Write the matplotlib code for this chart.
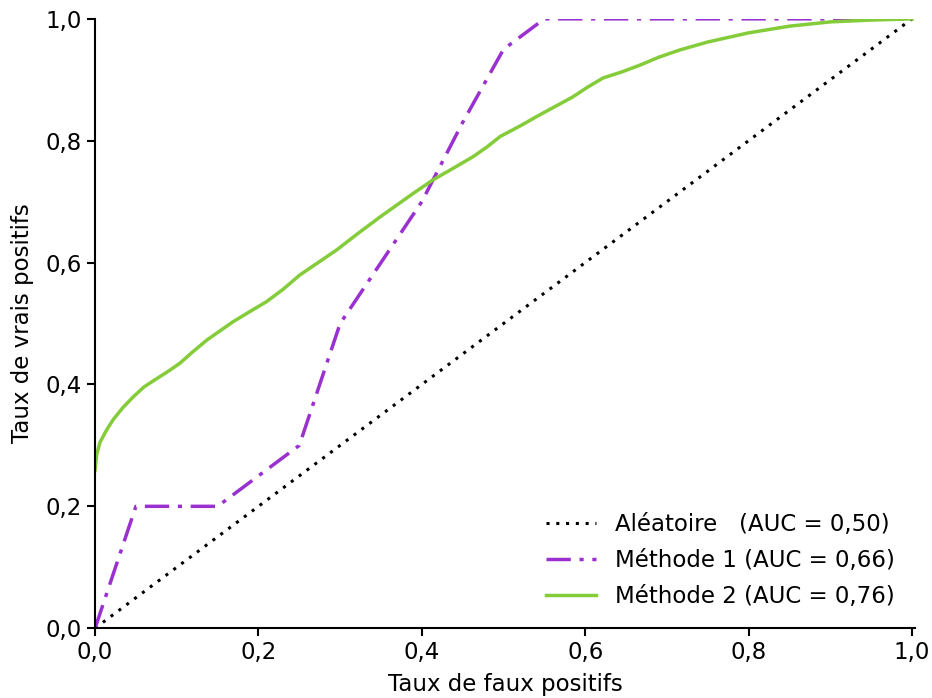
import matplotlib
matplotlib.use("Agg")
import matplotlib.pyplot as plt
from matplotlib.ticker import FuncFormatter

# diagonale (aléatoire)
fpr_rand = [0.0, 1.0]
tpr_rand = [0.0, 1.0]

# méthode 1
fpr_m1 = [0.0, 0.05, 0.15, 0.25, 0.30, 0.40, 0.45, 0.50, 0.55, 1.0]
tpr_m1 = [0.0, 0.20, 0.20, 0.30, 0.50, 0.70, 0.83, 0.95, 1.00, 1.0]

# méthode 2
fpr_m2 = [0.0, 0.002, 0.006, 0.014, 0.022, 0.034, 0.047, 0.060, 0.076, 0.090,
          0.104, 0.120, 0.137, 0.153, 0.169, 0.190, 0.210, 0.230, 0.251, 0.273,
          0.296, 0.322, 0.349, 0.370, 0.390, 0.414, 0.440, 0.463, 0.480, 0.496,
          0.520, 0.541, 0.563, 0.585, 0.603, 0.622, 0.645, 0.667, 0.690, 0.716,
          0.750, 0.800, 0.850, 0.900, 0.950, 1.0]
tpr_m2 = [0.259, 0.285, 0.305, 0.325, 0.342, 0.362, 0.380, 0.396, 0.410, 0.422,
          0.435, 0.454, 0.473, 0.488, 0.503, 0.520, 0.536, 0.556, 0.580, 0.600,
          0.621, 0.648, 0.675, 0.695, 0.714, 0.736, 0.756, 0.774, 0.790, 0.807,
          0.824, 0.840, 0.856, 0.872, 0.888, 0.903, 0.913, 0.924, 0.937, 0.949,
          0.962, 0.977, 0.988, 0.995, 0.998, 1.0]

labels = ["Aléatoire   (AUC = 0,50)",
          "Méthode 1 (AUC = 0,66)",
          "Méthode 2 (AUC = 0,76)"]

fig = plt.figure(figsize=(9.32, 6.98), dpi=100)
ax = fig.add_axes([0.102, 0.100, 0.880, 0.873])

ax.plot(fpr_rand, tpr_rand, color="black", linestyle=(0, (1, 2.2)), linewidth=2.2, label=labels[0])
ax.plot(fpr_m1, tpr_m1, color="#9b30d0", linestyle=(0, (7, 2.5, 1.2, 2.5)), linewidth=2.5, label=labels[1])
ax.plot(fpr_m2, tpr_m2, color="#84cc3a", linestyle="-", linewidth=2.5, label=labels[2])

ax.set_xlim(0, 1.004)
ax.set_ylim(0, 1.0)
ax.set_xticks([0, 0.2, 0.4, 0.6, 0.8, 1.0])
ax.set_yticks([0, 0.2, 0.4, 0.6, 0.8, 1.0])
fmt = FuncFormatter(lambda v, p: f"{v:.1f}".replace(".", ","))
ax.xaxis.set_major_formatter(fmt)
ax.yaxis.set_major_formatter(fmt)
ax.tick_params(labelsize=16.5, width=1.5, length=6)

ax.spines["top"].set_visible(False)
ax.spines["right"].set_visible(False)
ax.spines["left"].set_linewidth(1.5)
ax.spines["bottom"].set_linewidth(1.5)

ax.set_xlabel("Taux de faux positifs", fontsize=16.5, labelpad=6)
ax.set_ylabel("Taux de vrais positifs", fontsize=16.5, labelpad=8)

ax.legend(loc="lower right", frameon=False, fontsize=16.5, handlelength=2.2,
          bbox_to_anchor=(1.0, 0.0), labelspacing=0.55)

fig.savefig("out.png", dpi=100)
